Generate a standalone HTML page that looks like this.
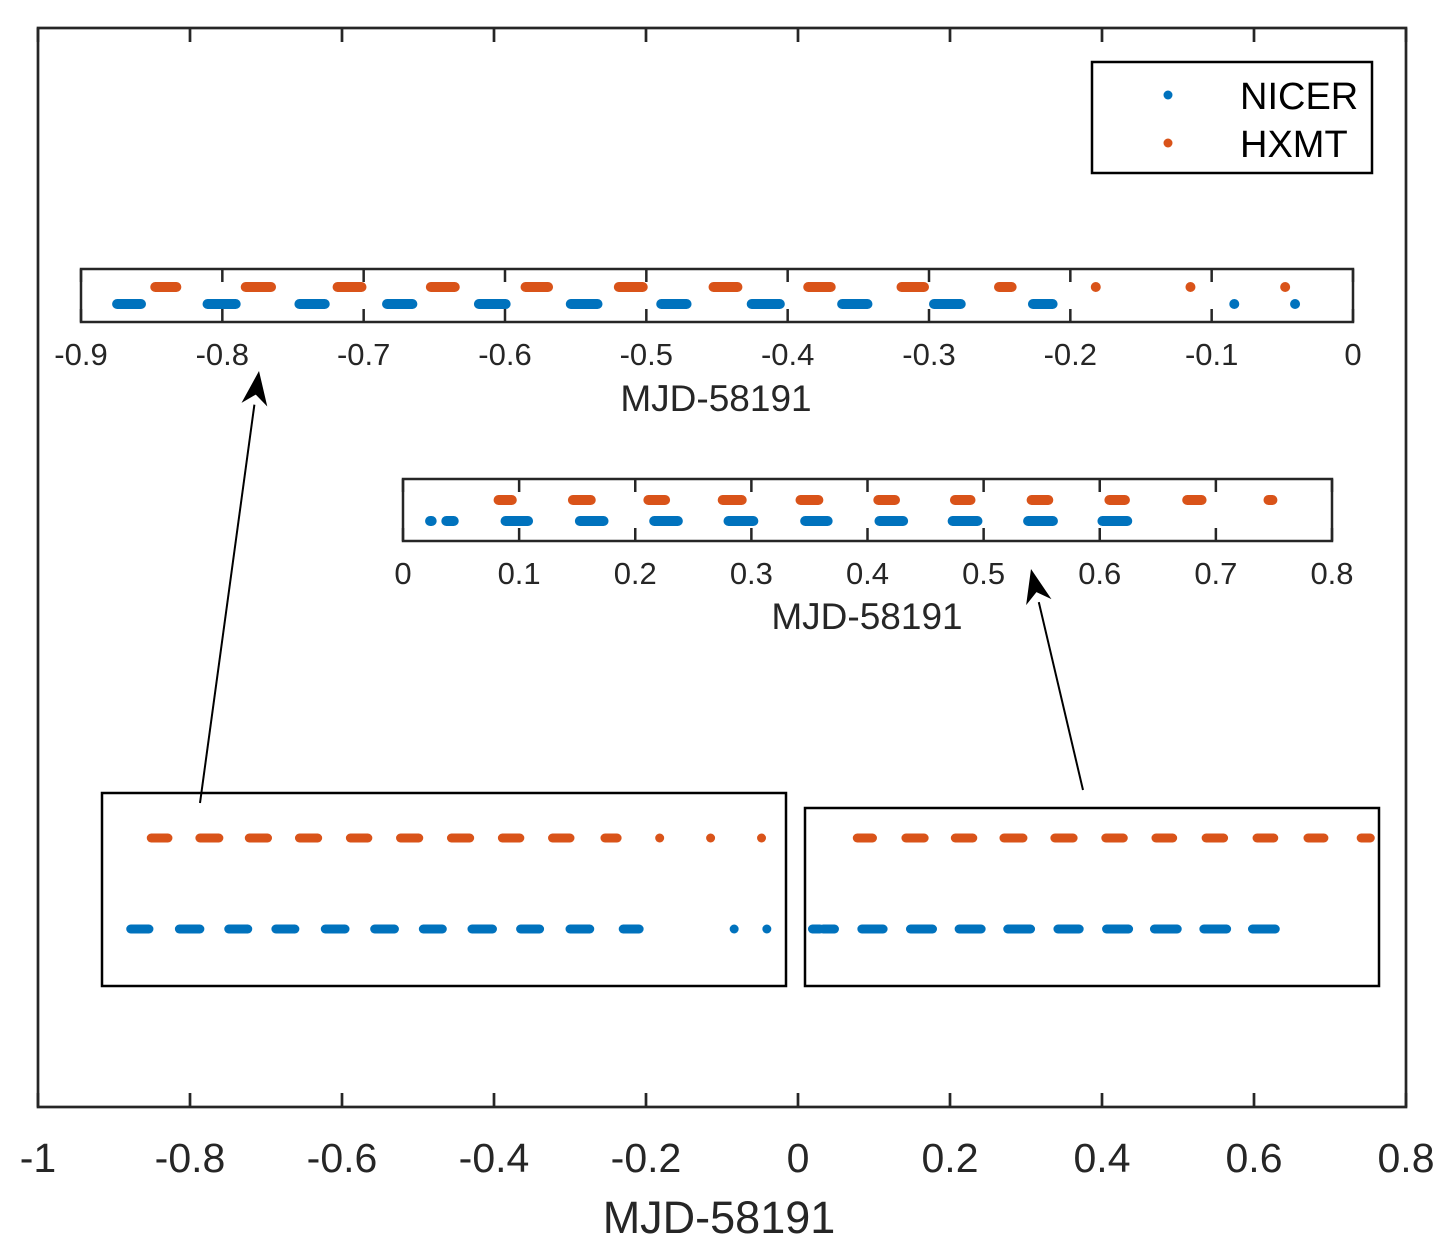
<!DOCTYPE html>
<html><head><meta charset="utf-8"><style>
html,body{margin:0;padding:0;background:#fff}
svg{display:block;font-family:"Liberation Sans",Arial,sans-serif}
</style></head><body>
<svg id="chart" width="1451" height="1255" viewBox="0 0 1451 1255" xmlns="http://www.w3.org/2000/svg"></svg>
<script>
// Data (MJD-58191)
const hxmtSegments = [[-0.851,-0.829],[-0.787,-0.762],[-0.722,-0.698],[-0.656,-0.632],[-0.589,-0.566],[-0.523,-0.499],[-0.456,-0.432],[-0.389,-0.366],[-0.323,-0.300],[-0.254,-0.238],[-0.182,-0.182],[-0.115,-0.115],[-0.048,-0.048],
  [0.078,0.098],[0.142,0.166],[0.207,0.230],[0.271,0.296],[0.338,0.362],[0.405,0.428],[0.471,0.493],[0.537,0.560],[0.604,0.626],[0.671,0.692],[0.741,0.753]];
const nicerSegments = [[-0.878,-0.854],[-0.814,-0.787],[-0.749,-0.724],[-0.687,-0.662],[-0.622,-0.596],[-0.557,-0.531],[-0.493,-0.468],[-0.429,-0.402],[-0.365,-0.340],[-0.300,-0.274],[-0.230,-0.209],[-0.084,-0.084],[-0.041,-0.041],
  [0.019,0.029],[0.033,0.048],[0.084,0.112],[0.148,0.177],[0.212,0.241],[0.276,0.306],[0.342,0.370],[0.406,0.435],[0.469,0.499],[0.534,0.564],[0.598,0.628]];
const mainTicks = [-1,-0.8,-0.6,-0.4,-0.2,0,0.2,0.4,0.6,0.8];
const leftInsetTicks = [-0.9,-0.8,-0.7,-0.6,-0.5,-0.4,-0.3,-0.2,-0.1,0];
const rightInsetTicks = [0,0.1,0.2,0.3,0.4,0.5,0.6,0.7,0.8];

const NS="http://www.w3.org/2000/svg";
const svg=document.getElementById('chart');
const BLUE="#0072BD", ORANGE="#D95319", INK="#262626";
function mk(tag,attrs,parent){const e=document.createElementNS(NS,tag);for(const k in attrs)e.setAttribute(k,attrs[k]);(parent||svg).appendChild(e);return e;}
function fmt(v){return (Math.round(v*10)/10).toString();}
function axis(x0,x1,v0,v1){return v=>x0+(v-v0)/(v1-v0)*(x1-x0);}

const mx=axis(38,1406,-1,0.8);
const mainBox=mk('rect',{x:38,y:28,width:1368,height:1079,fill:'none',stroke:INK,'stroke-width':2.7});


mainTicks.forEach(t=>{
  const x=mx(t);
  const tk=mk('path',{d:`M${x},1107v-14M${x},28v14`,stroke:INK,'stroke-width':2.7});
  
  
  const lb=mk('text',{x:x,y:1172,'font-size':41,'text-anchor':'middle',fill:INK});
  lb.textContent=fmt(t);
  
  
});
const mt=mk('text',{x:719,y:1233,'font-size':45,'text-anchor':'middle',fill:INK});
mt.textContent='MJD-58191';



function drawSegs(scale,segs,y,color,lo,hi,w,name,shrink){
  segs.forEach(s=>{
    if(s[1]<lo||s[0]>hi)return;
    let a=scale(s[0]),b=scale(s[1]);
    if(shrink){const r=w/2;if(b-a>w){a+=r;b-=r;}else{const m=(a+b)/2;a=m;b=m;}}
    const l=mk('line',{x1:a,y1:y,x2:b,y2:y,stroke:color,'stroke-width':w,'stroke-linecap':'round'});
    
    
  });
}
drawSegs(mx,hxmtSegments,838,ORANGE,-1,0.8,9,'hxmt-segment',false);
drawSegs(mx,nicerSegments,929,BLUE,-1,0.8,9,'nicer-segment',false);
const zb1=mk('rect',{x:102,y:793,width:684,height:193,fill:'none',stroke:'#000','stroke-width':2.5});


const zb2=mk('rect',{x:805,y:808,width:574,height:178,fill:'none',stroke:'#000','stroke-width':2.5});



function inset(x0,x1,y0,y1,v0,v1,ticks,hy,ny,labY,titleX,titleY,name){
  const sc=axis(x0,x1,v0,v1);
  const bg=mk('rect',{x:x0,y:y0,width:x1-x0,height:y1-y0,fill:'#fff',stroke:INK,'stroke-width':2.5});
  
  
  ticks.forEach(t=>{
    const x=sc(t);
    const tk=mk('path',{d:`M${x},${y1}v-13M${x},${y0}v13`,stroke:INK,'stroke-width':2.5});
    
    
    const lb=mk('text',{x:x,y:labY,'font-size':31,'text-anchor':'middle',fill:INK});
    lb.textContent=fmt(t);
    
    
  });
  drawSegs(sc,hxmtSegments,hy,ORANGE,v0,v1,10,name+'-hxmt-segment',true);
  drawSegs(sc,nicerSegments,ny,BLUE,v0,v1,10,name+'-nicer-segment',true);
  const tt=mk('text',{x:titleX,y:titleY,'font-size':37,'text-anchor':'middle',fill:INK});
  tt.textContent='MJD-58191';
  
  
}
inset(81,1353,269,322,-0.9,0,leftInsetTicks,287,304,365,716,411,'left-inset');
inset(403,1332,479,541,0,0.8,rightInsetTicks,500,521,584,867,629,'right-inset');

function arrow(x1,y1,x2,y2,name){
  const g=mk('g',{});
  
  
  const ang=Math.atan2(y2-y1,x2-x1), L=34, W=13;
  const bx=x2-L*Math.cos(ang), by=y2-L*Math.sin(ang);
  mk('line',{x1:x1,y1:y1,x2:bx,y2:by,stroke:'#000','stroke-width':2},g);
  const px=-Math.sin(ang)*W, py=Math.cos(ang)*W;
  const ix=x2-L*0.7*Math.cos(ang), iy=y2-L*0.7*Math.sin(ang);
  mk('path',{d:`M${x2},${y2}L${bx+px},${by+py}L${ix},${iy}L${bx-px},${by-py}Z`,fill:'#000'},g);
}
arrow(200,803,259,371,'arrow-left');
arrow(1083,790,1031,569,'arrow-right');

const lg=mk('g',{});


mk('rect',{x:1092,y:62,width:280,height:111,fill:'#fff',stroke:'#000','stroke-width':2.5},lg);
const e1=mk('g',{},lg);


mk('circle',{cx:1168,cy:95,r:4.5,fill:BLUE},e1);
const t1=mk('text',{x:1240,y:109,'font-size':38,fill:'#000'},e1);t1.textContent='NICER';
const e2=mk('g',{},lg);


mk('circle',{cx:1168,cy:143,r:4.5,fill:ORANGE},e2);
const t2=mk('text',{x:1240,y:157,'font-size':38,fill:'#000'},e2);t2.textContent='HXMT';
</script>
</body></html>
